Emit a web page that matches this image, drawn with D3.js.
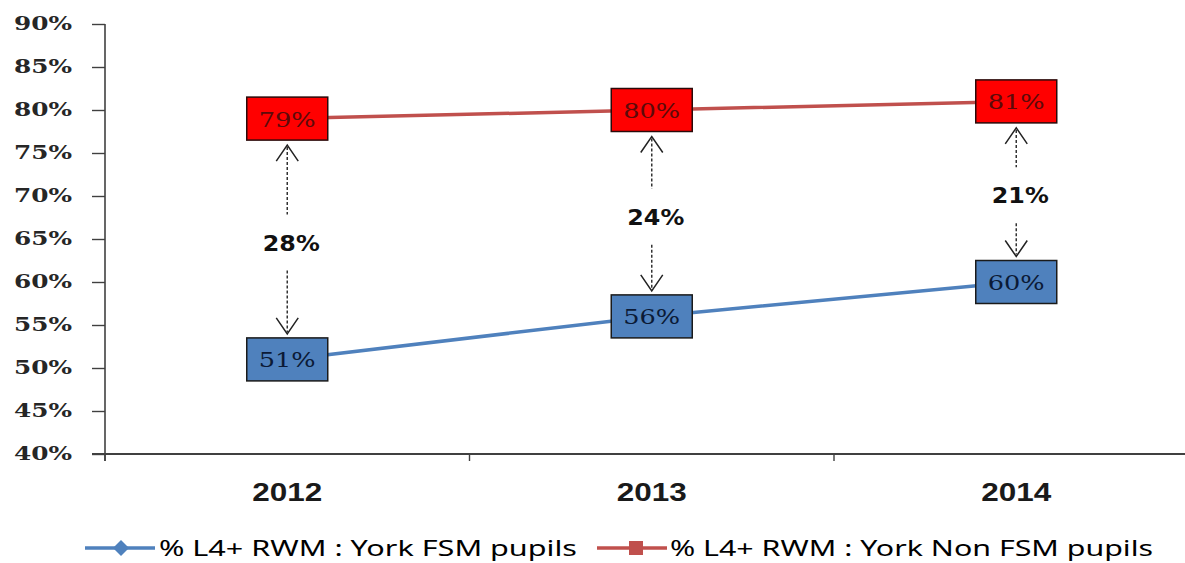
<!DOCTYPE html>
<html><head><meta charset="utf-8">
<script src="https://cdn.jsdelivr.net/npm/d3@7"></script>
<style>html,body{margin:0;padding:0;background:#fff;}svg{display:block;}</style>
</head><body>
<svg id="c" width="1185" height="563"></svg>
<script>
const years = ["2012", "2013", "2014"];
const fsmValues = [51, 56, 60];
const nonFsmValues = [79, 80, 81];
const gapValues = [28, 24, 21];
const yTickValues = [40, 45, 50, 55, 60, 65, 70, 75, 80, 85, 90];
const seriesNames = ["% L4+ RWM : York FSM pupils", "% L4+ RWM : York Non FSM pupils"];

const svg = d3.select("#c");
const x = d3.scaleBand().domain(years).range([105, 1198.5]);
const y = d3.scaleLinear().domain([40, 90]).range([454, 24]);
const cx = d => x(d) + x.bandwidth() / 2;

// Y axis
const yAxis = svg.append("g").attr("transform", "translate(105,0)")
  .call(d3.axisLeft(y).tickValues(yTickValues).tickFormat(d => d + "%").tickSize(13).tickSizeOuter(0).tickPadding(20));
yAxis.select(".domain").attr("stroke", "#404040").attr("stroke-width", 1.6).attr("d", "M0,24V461");
yAxis.selectAll(".tick line").attr("stroke", "#404040").attr("stroke-width", 1.4);
yAxis.selectAll(".tick text").attr("fill", "#262626").attr("font-family", "DejaVu Serif, serif")
  .attr("font-weight", "bold").attr("font-size", 18).attr("textLength", 58).attr("lengthAdjust", "spacingAndGlyphs");

// X axis (boundary ticks)
const xg = svg.append("g");
xg.append("line").attr("x1", 92).attr("x2", 1198.5).attr("y1", y(40)).attr("y2", y(40))
  .attr("stroke", "#404040").attr("stroke-width", 2);
const bounds = years.map(d => x(d)).concat([x.range()[1]]);
xg.selectAll(".xt").data(bounds).join("line").attr("x1", d => d).attr("x2", d => d)
  .attr("y1", y(40)).attr("y2", y(40) + 7).attr("stroke", "#404040").attr("stroke-width", 1.4);
xg.selectAll(".xl").data(years).join("text").attr("x", d => cx(d)).attr("y", 501)
  .attr("text-anchor", "middle").attr("font-family", "Liberation Sans Narrow, Liberation Sans, sans-serif")
  .attr("font-weight", "bold").attr("font-size", 26).attr("fill", "#1a1a1a")
  .attr("textLength", 70).attr("lengthAdjust", "spacingAndGlyphs").text(d => d);

// Lines
const line = d3.line().x((d, i) => cx(years[i])).y(d => y(d));
svg.append("path").datum(nonFsmValues).attr("d", line).attr("fill", "none").attr("stroke", "#C0504D").attr("stroke-width", 3.5);
svg.append("path").datum(fsmValues).attr("d", line).attr("fill", "none").attr("stroke", "#4F81BD").attr("stroke-width", 3.5);

// Gap arrows
const boxW = 81, boxH = 43;
years.forEach((yr, i) => {
  const px = cx(yr);
  const top = y(nonFsmValues[i]) + boxH / 2 + 5;
  const bot = y(fsmValues[i]) - boxH / 2 - 4;
  const mid = (top + bot) / 2 + 3;
  const g = svg.append("g");
  g.append("line").attr("x1", px).attr("x2", px).attr("y1", top + 2).attr("y2", mid - 28)
    .attr("stroke", "#333").attr("stroke-width", 1.5).attr("stroke-dasharray", "3,2");
  g.append("line").attr("x1", px).attr("x2", px).attr("y1", mid + 28).attr("y2", bot - 2)
    .attr("stroke", "#333").attr("stroke-width", 1.5).attr("stroke-dasharray", "3,2");
  g.append("path").attr("d", `M${px - 11},${top + 16}L${px},${top}L${px + 11},${top + 16}`)
    .attr("fill", "none").attr("stroke", "#222").attr("stroke-width", 1.5);
  g.append("path").attr("d", `M${px - 11},${bot - 16}L${px},${bot}L${px + 11},${bot - 16}`)
    .attr("fill", "none").attr("stroke", "#222").attr("stroke-width", 1.5);
  g.append("text").attr("x", px + 4).attr("y", mid + 8).attr("text-anchor", "middle")
    .attr("font-family", "DejaVu Sans, sans-serif").attr("font-weight", "bold").attr("font-size", 22)
    .attr("fill", "#111").attr("textLength", 57).attr("lengthAdjust", "spacingAndGlyphs").text(gapValues[i] + "%");
});

// Data label boxes
function boxes(vals, fill, stroke, txt) {
  const g = svg.append("g");
  g.selectAll("rect").data(vals).join("rect")
    .attr("x", (d, i) => cx(years[i]) - boxW / 2).attr("y", d => y(d) - boxH / 2)
    .attr("width", boxW).attr("height", boxH).attr("fill", fill).attr("stroke", stroke).attr("stroke-width", 1.5);
  g.selectAll("text").data(vals).join("text")
    .attr("x", (d, i) => cx(years[i])).attr("y", d => y(d) + 8).attr("text-anchor", "middle")
    .attr("font-family", "DejaVu Serif, serif").attr("font-size", 21).attr("fill", txt)
    .attr("textLength", 57).attr("lengthAdjust", "spacingAndGlyphs").text(d => d + "%");
}
boxes(nonFsmValues, "#FF0000", "#2a0a0a", "#5c0a0a");
boxes(fsmValues, "#4F81BD", "#1a1a1a", "#0b1a36");

// Legend
const lg = svg.append("g");
const ly = 548;
lg.append("line").attr("x1", 85).attr("x2", 155).attr("y1", ly).attr("y2", ly).attr("stroke", "#4F81BD").attr("stroke-width", 3.5);
lg.append("path").attr("d", `M121,${ly - 8}L129,${ly}L121,${ly + 8}L113,${ly}Z`).attr("fill", "#4F81BD");
lg.append("text").attr("x", 159).attr("y", ly + 8).attr("font-family", "Noto Sans, sans-serif").attr("font-size", 21)
  .attr("fill", "#000").attr("textLength", 418).attr("lengthAdjust", "spacingAndGlyphs").text(seriesNames[0]);
lg.append("line").attr("x1", 597).attr("x2", 667).attr("y1", ly).attr("y2", ly).attr("stroke", "#C0504D").attr("stroke-width", 3.5);
lg.append("rect").attr("x", 629).attr("y", ly - 7).attr("width", 14).attr("height", 14).attr("fill", "#C0504D");
lg.append("text").attr("x", 670).attr("y", ly + 8).attr("font-family", "Noto Sans, sans-serif").attr("font-size", 21)
  .attr("fill", "#000").attr("textLength", 483).attr("lengthAdjust", "spacingAndGlyphs").text(seriesNames[1]);
</script>
</body></html>
